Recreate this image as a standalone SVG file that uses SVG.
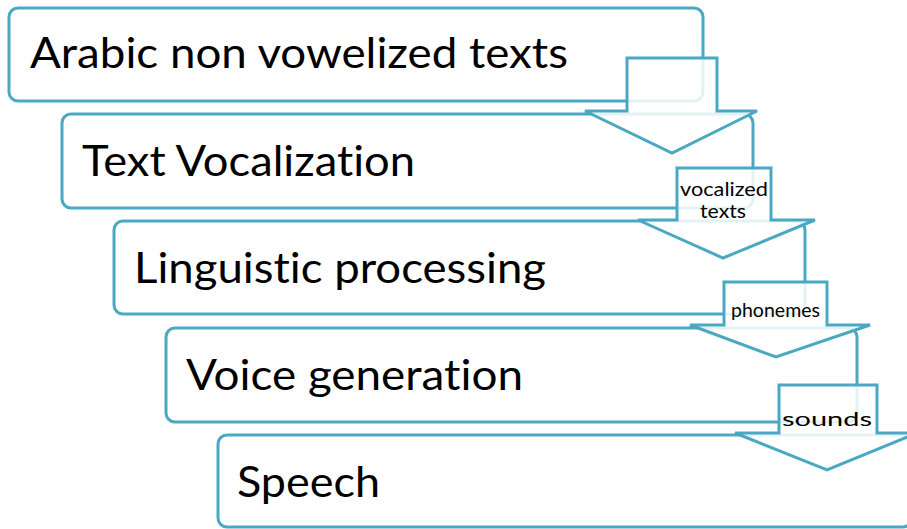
<svg xmlns="http://www.w3.org/2000/svg" width="907" height="529" viewBox="0 0 907 529">
  <style>
    .box { fill: #ffffff; stroke: #4aa8c3; stroke-width: 3; }
    .arrow { fill: #ffffff; fill-opacity: 0.85; stroke: #4aa8c3; stroke-width: 3; stroke-linejoin: miter; }
    text { font-family: Lato, "Open Sans", "Liberation Sans", sans-serif; fill: #000000; font-variant-ligatures: none; font-feature-settings: "liga" 0, "clig" 0; }
    .big { font-size: 42px; }
    .small { font-size: 20px; }
  </style>
  <rect width="907" height="529" fill="#ffffff"/>

  <!-- process steps -->
  <g id="step1">
    <rect class="box" x="9" y="8" width="694" height="93" rx="9"/>
    <text class="big" x="30" y="68" textLength="538" lengthAdjust="spacingAndGlyphs">Arabic non vowelized texts</text>
  </g>
  <g id="step2">
    <rect class="box" x="62" y="114" width="691" height="94" rx="9"/>
    <text class="big" x="82" y="176" textLength="333" lengthAdjust="spacingAndGlyphs">Text Vocalization</text>
  </g>
  <g id="step3">
    <rect class="box" x="114" y="221" width="691" height="93" rx="9"/>
    <text class="big" x="134" y="283" textLength="412" lengthAdjust="spacingAndGlyphs">Linguistic processing</text>
  </g>
  <g id="step4">
    <rect class="box" x="166" y="328" width="691" height="94" rx="9"/>
    <text class="big" x="186" y="390" textLength="337" lengthAdjust="spacingAndGlyphs">Voice generation</text>
  </g>
  <g id="step5">
    <rect class="box" x="218" y="435" width="694" height="92" rx="9"/>
    <text class="big" x="237" y="497" textLength="143" lengthAdjust="spacingAndGlyphs">Speech</text>
  </g>

  <!-- down arrows between steps -->
  <g id="connectors">
    <polygon class="arrow" points="627,58 717,58 717,111 757,111 672,153 585,111 627,111"/>
    <polygon class="arrow" points="677,168 771,168 771,220 815,220 723,258 638,220 677,220"/>
    <polygon class="arrow" points="724,282 827,282 827,325 870,325 776,357 690,325 724,325"/>
    <polygon class="arrow" points="779,385 877,385 877,433 917,433 827,470 735,433 779,433"/>
    <text class="small" x="680" y="196" textLength="88" lengthAdjust="spacingAndGlyphs">vocalized</text>
    <text class="small" x="700" y="218" textLength="46" lengthAdjust="spacingAndGlyphs">texts</text>
    <text class="small" x="731" y="317" font-size="19" textLength="89" lengthAdjust="spacingAndGlyphs">phonemes</text>
    <text class="small" x="782" y="426" font-size="25" textLength="90" lengthAdjust="spacingAndGlyphs">sounds</text>
  </g>
</svg>
